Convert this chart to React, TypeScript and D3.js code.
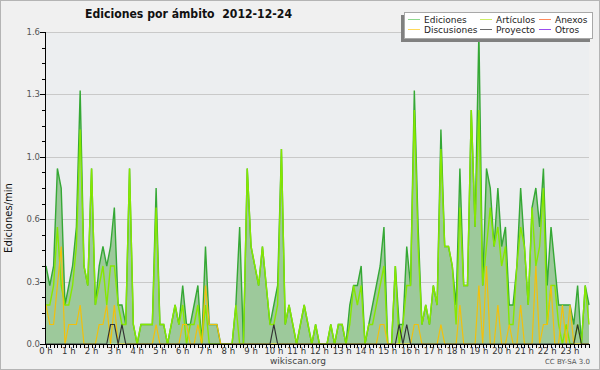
import React from 'react';
import * as d3 from 'd3';

// edits per minute, one value every 10 minutes (144 slots)
const ediciones = [
  0.4, 0.3, 0.4, 0.9, 0.8, 0.2, 0.3, 0.4, 0.6, 1.3, 0.4, 0.3, 0.9, 0.2, 0.4, 0.5, 0.4, 0.5, 0.7, 0.2, 0.2, 0.1, 0.9, 0.1,
  0.0, 0.1, 0.1, 0.1, 0.1, 0.8, 0.1, 0.1, 0.0, 0.1, 0.2, 0.1, 0.3, 0.1, 0.1, 0.2, 0.3, 0.0, 0.5, 0.1, 0.1, 0.1, 0.0, 0.0,
  0.0, 0.0, 0.2, 0.6, 0.0, 0.9, 0.5, 0.4, 0.3, 0.5, 0.3, 0.1, 0.2, 0.3, 1.0, 0.1, 0.2, 0.1, 0.0, 0.1, 0.2, 0.1, 0.0, 0.1,
  0.0, 0.0, 0.0, 0.1, 0.0, 0.1, 0.1, 0.0, 0.2, 0.3, 0.3, 0.4, 0.0, 0.1, 0.2, 0.3, 0.4, 0.6, 0.0, 0.0, 0.4, 0.1, 0.1, 0.5,
  0.3, 1.3, 0.6, 0.1, 0.2, 0.1, 0.3, 0.2, 1.1, 0.5, 0.5, 0.4, 0.2, 0.9, 0.3, 0.3, 1.2, 0.6, 1.6, 0.3, 0.9, 0.8, 0.5, 0.8,
  0.5, 0.6, 0.2, 0.2, 0.4, 0.8, 0.5, 0.2, 0.7, 0.8, 0.6, 0.9, 0.3, 0.6, 0.4, 0.2, 0.2, 0.2, 0.2, 0.1, 0.3, 0.0, 0.3, 0.2,
];
const articulos = [
  0.2, 0.2, 0.3, 0.6, 0.3, 0.2, 0.2, 0.3, 0.5, 1.1, 0.4, 0.3, 0.9, 0.2, 0.3, 0.4, 0.2, 0.4, 0.4, 0.2, 0.1, 0.1, 0.9, 0.1,
  0.0, 0.1, 0.1, 0.1, 0.1, 0.7, 0.1, 0.1, 0.0, 0.1, 0.2, 0.1, 0.2, 0.0, 0.1, 0.1, 0.2, 0.0, 0.2, 0.0, 0.0, 0.0, 0.0, 0.0,
  0.0, 0.0, 0.2, 0.0, 0.0, 0.9, 0.5, 0.4, 0.3, 0.5, 0.3, 0.1, 0.1, 0.2, 1.0, 0.1, 0.2, 0.1, 0.0, 0.1, 0.2, 0.1, 0.0, 0.1,
  0.0, 0.0, 0.0, 0.1, 0.0, 0.1, 0.1, 0.0, 0.1, 0.3, 0.2, 0.3, 0.0, 0.1, 0.1, 0.2, 0.3, 0.4, 0.0, 0.0, 0.4, 0.0, 0.1, 0.3,
  0.3, 1.2, 0.5, 0.1, 0.2, 0.1, 0.3, 0.2, 1.0, 0.5, 0.5, 0.4, 0.1, 0.7, 0.3, 0.3, 1.2, 0.6, 1.2, 0.3, 0.5, 0.7, 0.5, 0.6,
  0.4, 0.5, 0.1, 0.1, 0.4, 0.6, 0.5, 0.2, 0.7, 0.4, 0.5, 0.8, 0.1, 0.3, 0.3, 0.1, 0.0, 0.1, 0.0, 0.0, 0.1, 0.0, 0.3, 0.1,
];
const discusiones = [
  0.2, 0.1, 0.1, 0.3, 0.5, 0.0, 0.1, 0.1, 0.1, 0.2, 0.0, 0.0, 0.0, 0.0, 0.1, 0.1, 0.2, 0.0, 0.2, 0.0, 0.0, 0.0, 0.0, 0.0,
  0.0, 0.0, 0.0, 0.0, 0.0, 0.1, 0.0, 0.0, 0.0, 0.0, 0.0, 0.0, 0.1, 0.1, 0.0, 0.0, 0.1, 0.0, 0.3, 0.1, 0.1, 0.1, 0.0, 0.0,
  0.0, 0.0, 0.0, 0.0, 0.0, 0.0, 0.0, 0.0, 0.0, 0.0, 0.0, 0.0, 0.0, 0.0, 0.0, 0.0, 0.0, 0.0, 0.0, 0.0, 0.0, 0.0, 0.0, 0.0,
  0.0, 0.0, 0.0, 0.0, 0.0, 0.0, 0.0, 0.0, 0.0, 0.0, 0.0, 0.0, 0.0, 0.0, 0.0, 0.0, 0.1, 0.1, 0.0, 0.0, 0.0, 0.0, 0.0, 0.0,
  0.0, 0.1, 0.1, 0.0, 0.0, 0.0, 0.0, 0.0, 0.1, 0.0, 0.0, 0.0, 0.0, 0.2, 0.0, 0.0, 0.0, 0.0, 0.3, 0.0, 0.4, 0.0, 0.0, 0.2,
  0.0, 0.0, 0.1, 0.0, 0.0, 0.2, 0.0, 0.0, 0.0, 0.4, 0.0, 0.1, 0.1, 0.3, 0.0, 0.0, 0.2, 0.0, 0.2, 0.0, 0.0, 0.0, 0.0, 0.0,
];
const proyecto = [
  0, 0, 0, 0, 0, 0, 0, 0, 0, 0, 0, 0, 0, 0, 0, 0, 0, 0.1, 0.1, 0, 0.1, 0, 0, 0,
  0, 0, 0, 0, 0, 0, 0, 0, 0, 0, 0, 0, 0, 0, 0, 0, 0, 0, 0, 0, 0, 0, 0, 0,
  0, 0, 0, 0, 0, 0, 0, 0, 0, 0, 0, 0, 0.1, 0, 0, 0, 0, 0, 0, 0, 0, 0, 0, 0,
  0, 0, 0, 0, 0, 0, 0, 0, 0, 0, 0, 0, 0, 0, 0, 0, 0, 0, 0, 0, 0, 0.1, 0, 0.1,
  0, 0, 0, 0, 0, 0, 0, 0, 0, 0, 0, 0, 0, 0, 0, 0, 0, 0, 0, 0, 0, 0, 0, 0,
  0, 0, 0, 0, 0, 0, 0, 0, 0, 0, 0, 0, 0, 0, 0, 0, 0, 0, 0, 0, 0.1, 0, 0, 0,
];
const hours = d3.range(0, 24);
const yMax = 1.6;
const yDivisions = 5;

const legendItems = [
  { label: 'Ediciones', color: '#8ed88e' },
  { label: 'Artículos', color: '#cdee66' },
  { label: 'Anexos', color: '#ff8a5c' },
  { label: 'Discusiones', color: '#ffd95a' },
  { label: 'Proyecto', color: '#6a6a6a' },
  { label: 'Otros', color: '#9b4dee' },
];

const W = 600, H = 370;
const left = 46, right = 589, top = 32, bottom = 344;
const font = 'DejaVu Sans, Verdana, sans-serif';

export default function App() {
  const x = d3.scaleLinear().domain([0, ediciones.length - 1]).range([left, right]);
  const y = d3.scaleLinear().domain([0, yMax]).range([bottom, top]);

  const line = d3.line<number>().x((_, i) => x(i)).y(d => y(d));
  const area = d3.area<number>().x((_, i) => x(i)).y0(bottom).y1(d => y(d));

  const majors = d3.range(0, yDivisions + 1).map(k => (k * yMax) / yDivisions);
  const minors = d3.range(0, yDivisions * 4 + 1).map(k => (k * yMax) / (yDivisions * 4));
  const fmt = d3.format('.1f');

  return (
    <svg width={W} height={H} style={{ position: 'absolute', left: 0, top: 0, fontFamily: font }}>
      <rect x={0.5} y={0.5} width={W - 1} height={H - 1} fill="#f0f0f0" stroke="#b4b4b4" />
      <rect x={left} y={top} width={right - left} height={bottom - top} fill="#eceef0" />

      {/* grid */}
      {majors.slice(1).map(v => (
        <line key={v} x1={left} x2={right} y1={Math.round(y(v)) + 0.5} y2={Math.round(y(v)) + 0.5} stroke="#c9c9c9" />
      ))}

      {/* series */}
      <path d={area(ediciones) || ''} fill="#9dc99b" />
      <path d={line(ediciones) || ''} fill="none" stroke="#35a835" strokeWidth={1.4} strokeLinejoin="miter" />
      <path d={line(articulos) || ''} fill="none" stroke="#86e800" strokeWidth={1.4} />
      <path d={line(discusiones) || ''} fill="none" stroke="#f2c00c" strokeWidth={1.2} />
      <path d={line(proyecto) || ''} fill="none" stroke="#333333" strokeWidth={1.2} />

      {/* y axis */}
      <line x1={left - 0.5} x2={left - 0.5} y1={top} y2={bottom} stroke="#000" />
      {minors.map((v, k) => (
        <line key={k} x1={k % 4 === 0 ? left - 6 : left - 4} x2={left} y1={Math.round(y(v)) + 0.5} y2={Math.round(y(v)) + 0.5} stroke="#000" />
      ))}
      {majors.map(v => (
        <text key={v} x={left - 6} y={y(v) + 3} fontSize={8.5} fill="#555" textAnchor="end">{fmt(v)}</text>
      ))}
      <text transform={`translate(12,218) rotate(-90)`} fontSize={10} fill="#111" textAnchor="middle">Ediciones/min</text>

      {/* x axis */}
      <line x1={left} x2={right + 1} y1={bottom + 0.5} y2={bottom + 0.5} stroke="#000" />
      {ediciones.map((_, i) => (
        <line key={i} x1={Math.round(x(i)) + 0.5} x2={Math.round(x(i)) + 0.5} y1={bottom} y2={bottom + 4} stroke="#000" />
      ))}
      {hours.map(h => (
        <text key={h} x={x(h * 6)} y={bottom + 9.5} fontSize={8.5} fill="#333" textAnchor="middle">{`${h} h`}</text>
      ))}

      <text x={298} y={364} fontSize={9} fill="#444" textAnchor="middle">wikiscan.org</text>
      <text x={590} y={364} fontSize={7} fill="#555" textAnchor="end">CC BY-SA 3.0</text>

      {/* title */}
      <text x={85} y={18} fontSize={12.5} fontWeight="bold" fill="#111" textLength={207} lengthAdjust="spacingAndGlyphs" style={{ whiteSpace: 'pre' }}>
        {'Ediciones por ámbito  2012-12-24'}
      </text>

      {/* legend */}
      <rect x={401} y={15} width={189} height={27} fill="#808080" />
      <rect x={404.5} y={12.5} width={188} height={26} fill="#fff" stroke="#a8a8a8" />
      {legendItems.map((it, k) => {
        const col = k % 3;
        const row = Math.floor(k / 3);
        const lx = [408, 480, 539][col];
        const ly = 19.5 + row * 10;
        return (
          <g key={it.label}>
            <line x1={lx} x2={lx + 12} y1={ly} y2={ly} stroke={it.color} strokeWidth={1} />
            <text x={lx + 16} y={ly + 3} fontSize={9} fill="#222">{it.label}</text>
          </g>
        );
      })}
    </svg>
  );
}
